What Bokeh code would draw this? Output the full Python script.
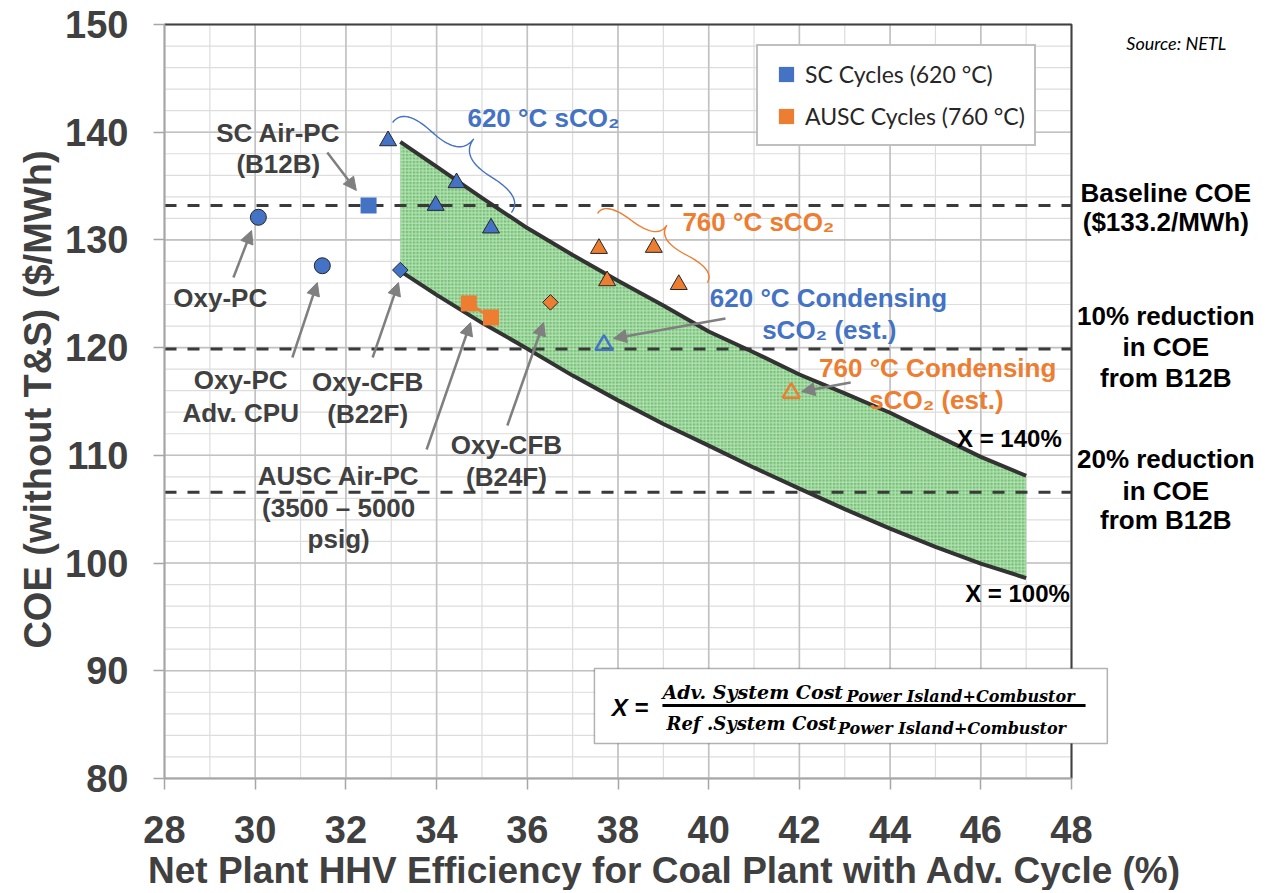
import math
from bokeh.plotting import figure
from bokeh.models import (Range1d, FixedTicker, Label, Arrow, NormalHead,
                          BoxAnnotation, Legend, LegendItem)
from bokeh.embed import file_html
from bokeh.resources import INLINE

# ---------------- data ----------------
eff_grid = [33.2, 34, 35, 36, 37, 38, 39, 40, 41, 42, 43, 44, 45, 46, 47]
coe_x140 = [139.1, 136.8, 133.9, 131.1, 128.6, 126.2, 123.9, 121.5, 119.55, 117.5,
            115.75, 113.95, 111.9, 109.85, 108.1]
coe_x100 = [127.1, 124.9, 122.3, 119.9, 117.4, 115.1, 112.9, 110.9, 108.85, 106.9,
            105.0, 103.2, 101.5, 99.95, 98.6]

oxy_pc_x = [30.07, 31.48]          # Oxy-PC, Oxy-PC Adv. CPU
oxy_pc_y = [132.1, 127.6]
sc_air_x = [32.5]                  # SC Air-PC (B12B)
sc_air_y = [133.2]
ausc_air_x = [34.71, 35.2]         # AUSC Air-PC
ausc_air_y = [124.1, 122.8]
cfb22_x = [33.2]                   # Oxy-CFB (B22F)
cfb22_y = [127.2]
cfb24_x = [36.51]                  # Oxy-CFB (B24F)
cfb24_y = [124.2]
sco2_620_x = [32.93, 33.98, 34.44, 35.2]
sco2_620_y = [139.2, 133.2, 135.3, 131.1]
sco2_760_x = [37.58, 37.76, 38.79, 39.34]
sco2_760_y = [129.2, 126.2, 129.3, 125.85]
cond_620_x = [37.69]
cond_620_y = [120.25]
cond_760_x = [41.82]
cond_760_y = [115.8]

ref_levels = [133.2, 119.88, 106.56]   # baseline COE, 10 % and 20 % reduction

x_ticks = list(range(28, 49, 2))
x_minor = list(range(28, 49, 1))
y_ticks = list(range(80, 151, 10))
y_minor = list(range(80, 151, 2))

BLUE = "#4472C4"
ORANGE = "#ED7D31"
GREY_TXT = "#404040"
ARROW_C = "#7f7f7f"
FONT = "Liberation Sans"

# ---------------- layout: the frame covers the whole canvas ----------------
W, H = 1270, 890
X0_PX, Y0_PX = 164.0, 24.0      # canvas position of the plot corner (28, 150)
SX, SY = 45.35, 10.77           # pixels per data unit
x_lo = x_ticks[0] - X0_PX / SX
x_hi = x_ticks[0] + (W - X0_PX) / SX
y_hi = y_ticks[-1] + Y0_PX / SY
y_lo = y_ticks[-1] - (H - Y0_PX) / SY

p = figure(width=W, height=H, x_range=Range1d(x_lo, x_hi), y_range=Range1d(y_lo, y_hi),
           output_backend="svg", toolbar_location=None, min_border=0)
p.background_fill_color = "white"
p.border_fill_color = "white"
p.outline_line_color = None
p.grid.visible = False

p.xaxis.ticker = FixedTicker(ticks=x_ticks)
p.yaxis.ticker = FixedTicker(ticks=y_ticks)
p.xaxis.fixed_location = y_ticks[0]
p.yaxis.fixed_location = x_ticks[0]
p.xaxis.bounds = (x_ticks[0], x_ticks[-1])
p.yaxis.bounds = (y_ticks[0], y_ticks[-1])
for ax in (p.xaxis, p.yaxis):
    ax.axis_line_color = "#a6a6a6"
    ax.axis_line_width = 2
    ax.major_tick_line_color = "#a6a6a6"
    ax.major_tick_line_width = 1.5
    ax.major_tick_out = 11
    ax.major_tick_in = 0
    ax.minor_tick_line_color = None
    ax.major_label_text_font = FONT
    ax.major_label_text_font_style = "bold"
    ax.major_label_text_font_size = "38px"
    ax.major_label_text_color = GREY_TXT
p.xaxis.major_label_standoff = 27
p.yaxis.major_label_standoff = 25

# ---------------- grid (limited to the data area) ----------------
n_xm, n_ym = len(x_minor), len(y_minor)
p.segment(x0=x_minor, y0=[y_ticks[0]] * n_xm, x1=x_minor, y1=[y_ticks[-1]] * n_xm,
          line_color="#dddddd", line_width=1.2, level="underlay")
p.segment(x0=[x_ticks[0]] * n_ym, y0=y_minor, x1=[x_ticks[-1]] * n_ym, y1=y_minor,
          line_color="#dddddd", line_width=1.2, level="underlay")
p.segment(x0=x_ticks, y0=[y_ticks[0]] * len(x_ticks), x1=x_ticks, y1=[y_ticks[-1]] * len(x_ticks),
          line_color="#c2c2c2", line_width=1.6, level="underlay")
p.segment(x0=[x_ticks[0]] * len(y_ticks), y0=y_ticks, x1=[x_ticks[-1]] * len(y_ticks), y1=y_ticks,
          line_color="#c2c2c2", line_width=1.6, level="underlay")

# ---------------- shaded region ----------------
p.varea(x=eff_grid, y1=coe_x100, y2=coe_x140, fill_color="#66bd66", fill_alpha=0.9,
        hatch_pattern="+", hatch_color="#c9e9c9", hatch_scale=3.5, hatch_weight=1,
        hatch_alpha=0.85, level="underlay")

n_ref = len(ref_levels)
p.segment(x0=[x_ticks[0]] * n_ref, y0=ref_levels, x1=[x_ticks[-1]] * n_ref, y1=ref_levels,
          line_color="#3a3a3a", line_width=3, line_dash="12 11", level="underlay")

# plot border (top and right)
p.line([x_ticks[0], x_ticks[-1], x_ticks[-1]], [y_ticks[-1], y_ticks[-1], y_ticks[0]],
       line_color="#404040", line_width=2)

p.line(eff_grid, coe_x140, line_color="#333333", line_width=4)
p.line(eff_grid, coe_x100, line_color="#333333", line_width=4)

# ---------------- markers ----------------
p.scatter(oxy_pc_x, oxy_pc_y, marker="circle", size=16, fill_color=BLUE, line_color="#262626", line_width=1)
sc_sq = p.scatter(sc_air_x, sc_air_y, marker="square", size=16, fill_color=BLUE, line_color=None)
p.line(ausc_air_x, ausc_air_y, line_color=ORANGE, line_width=3)
ausc_sq = p.scatter(ausc_air_x, ausc_air_y, marker="square", size=16, fill_color=ORANGE, line_color=None)
p.scatter(cfb22_x, cfb22_y, marker="square", angle=math.pi / 4, size=11, fill_color=BLUE,
          line_color="#262626", line_width=1)
p.scatter(cfb24_x, cfb24_y, marker="square", angle=math.pi / 4, size=11, fill_color=ORANGE,
          line_color="#262626", line_width=1)
p.scatter(sco2_620_x, sco2_620_y, marker="triangle", size=17, fill_color=BLUE, line_color="#262626", line_width=1)
p.scatter(sco2_760_x, sco2_760_y, marker="triangle", size=17, fill_color=ORANGE, line_color="#262626", line_width=1)
p.scatter(cond_620_x, cond_620_y, marker="triangle", size=17, fill_color=None, line_color=BLUE, line_width=2.5)
p.scatter(cond_760_x, cond_760_y, marker="triangle", size=17, fill_color=None, line_color=ORANGE, line_width=2.5)

# ---------------- legend ----------------
legend = Legend(items=[LegendItem(label="SC Cycles (620 °C)", renderers=[sc_sq]),
                       LegendItem(label="AUSC Cycles (760 °C)", renderers=[ausc_sq])],
                location=(756, H - 146), margin=0, padding=9, spacing=4,
                glyph_width=38, glyph_height=38, label_standoff=0, label_height=38,
                label_text_font="Lato", label_text_font_size="23px", label_text_color="#262626",
                border_line_color="#808080", border_line_width=2,
                background_fill_color="white", background_fill_alpha=1)
p.add_layout(legend)

# ---------------- helpers for annotations ----------------
def label(x, y, text, size="26px", color=GREY_TXT, align="center", font=FONT, style="bold",
          baseline="middle", angle=0.0):
    p.add_layout(Label(x=x, y=y, text=text, text_align=align, text_baseline=baseline,
                       text_font=font, text_font_style=style, text_font_size=size,
                       text_color=color, angle=angle))

def arrow(x0, y0, x1, y1):
    p.add_layout(Arrow(x_start=x0, y_start=y0, x_end=x1, y_end=y1, line_color=ARROW_C,
                       line_width=2.5,
                       end=NormalHead(size=13, fill_color=ARROW_C, line_color=ARROW_C, line_width=1)))

def brace(ax_, ay_, bx_, by_, w, color, q=0.55):
    # built in screen-like space (y down) so the shape is not distorted
    A = (ax_ * SX, -ay_ * SY)
    B = (bx_ * SX, -by_ * SY)
    L = math.hypot(B[0] - A[0], B[1] - A[1])
    dx, dy = (B[0] - A[0]) / L, (B[1] - A[1]) / L
    nx, ny = dy, -dx

    def pt(s, h):
        return (A[0] + s * dx + h * nx, A[1] + s * dy + h * ny)

    def quad(P0, C, P1, n=20):
        return [((1 - t) ** 2 * P0[0] + 2 * (1 - t) * t * C[0] + t * t * P1[0],
                 (1 - t) ** 2 * P0[1] + 2 * (1 - t) * t * C[1] + t * t * P1[1])
                for t in (i / n for i in range(n + 1))]

    C1 = pt(0, q * w)
    P1 = pt(0.25 * L, (1 - q) * w)
    C2 = (2 * P1[0] - C1[0], 2 * P1[1] - C1[1])
    T = pt(0.5 * L, w)
    C3 = pt(L, q * w)
    P3 = pt(0.75 * L, (1 - q) * w)
    C4 = (2 * P3[0] - C3[0], 2 * P3[1] - C3[1])
    pts = quad(A, C1, P1) + quad(P1, C2, T) + quad(T, C4, P3) + quad(P3, C3, B)
    p.line([u / SX for u, _ in pts], [-v / SY for _, v in pts], line_color=color, line_width=1.4)

brace(33.03, 140.9, 35.65, 132.54, 36, BLUE)
brace(37.55, 132.45, 39.97, 126.04, 27, ORANGE)

# ---------------- arrows ----------------
arrow(31.59, 138.12, 32.23, 134.59)   # SC Air-PC
arrow(29.52, 126.51, 29.92, 130.87)   # Oxy-PC
arrow(30.82, 119.08, 31.37, 126.04)   # Oxy-PC Adv. CPU
arrow(32.59, 119.08, 33.16, 126.04)   # Oxy-CFB B22F
arrow(33.78, 110.54, 34.75, 122.33)   # AUSC Air-PC
arrow(35.56, 112.77, 36.36, 122.33)   # Oxy-CFB B24F
arrow(40.37, 122.70, 37.90, 120.85)   # 620 condensing
arrow(43.13, 116.76, 42.05, 115.92)   # 760 condensing

# ---------------- text labels ----------------
label(30.51, 139.97, "SC Air-PC")
label(30.51, 137.09, "(B12B)")
label(29.23, 124.65, "Oxy-PC")
label(29.68, 116.95, "Oxy-PC")
label(29.68, 113.97, "Adv. CPU")
label(32.48, 116.76, "Oxy-CFB")
label(32.48, 113.88, "(B22F)")
label(31.84, 108.12, "AUSC Air-PC")
label(31.84, 105.15, "(3500 – 5000")
label(31.84, 102.27, "psig)")
label(35.54, 110.91, "Oxy-CFB")
label(35.54, 107.94, "(B24F)")

label(34.68, 141.36, "620 °C sCO₂", color=BLUE, align="left")
label(42.64, 124.65, "620 °C Condensing", color=BLUE)
label(42.66, 121.59, "sCO₂ (est.)", color=BLUE)
label(39.42, 131.62, "760 °C sCO₂", color=ORANGE, align="left")
label(45.05, 118.15, "760 °C Condensing", color=ORANGE)
label(45.02, 115.09, "sCO₂ (est.)", color=ORANGE)

label(46.63, 111.56, "X = 140%", size="24px", color="black")
label(46.81, 97.17, "X = 100%", size="24px", color="black")

for yy, tt in [(134.31, "Baseline COE"), (131.62, "($133.2/MWh)"),
               (122.98, "10% reduction"), (120.10, "in COE"), (117.22, "from B12B"),
               (109.70, "20% reduction"), (106.73, "in COE"), (103.95, "from B12B")]:
    label(50.08, yy, tt, color="black")

label(50.31, 148.24, "Source: NETL", size="18px", color="black", font="Lato", style="italic")

# ---------------- formula box ----------------
p.add_layout(BoxAnnotation(left=37.48, right=48.79, bottom=83.24, top=90.20,
                           fill_color="white", fill_alpha=1, line_color="black", line_width=1.5))
label(37.86, 86.58, "X =", size="24px", color="black", align="left", style="bold italic")
label(38.98, 88.00, "Adv. System Cost", size="19px", color="black", align="left",
      font="DejaVu Serif", style="bold italic", baseline="alphabetic")
label(43.04, 87.62, "Power Island+Combustor", size="16px", color="black", align="left",
      font="DejaVu Serif", style="bold italic", baseline="alphabetic")
p.add_layout(Arrow(x_start=38.98, y_start=86.77, x_end=48.31, y_end=86.77, end=None,
                   line_color="black", line_width=3))
label(39.07, 85.10, "Ref .System Cost", size="18px", color="black", align="left",
      font="DejaVu Serif", style="bold italic", baseline="alphabetic")
label(42.85, 84.65, "Power Island+Combustor", size="16px", color="black", align="left",
      font="DejaVu Serif", style="bold italic", baseline="alphabetic")

# ---------------- axis titles ----------------
label(39.03, 71.45, "Net Plant HHV Efficiency for Coal Plant with Adv. Cycle (%)", size="37px")
label(25.2, 115.18, "COE (without T&S) ($/MWh)", size="38px", angle=math.pi / 2)

open("out.html", "w").write(file_html(p, INLINE))
